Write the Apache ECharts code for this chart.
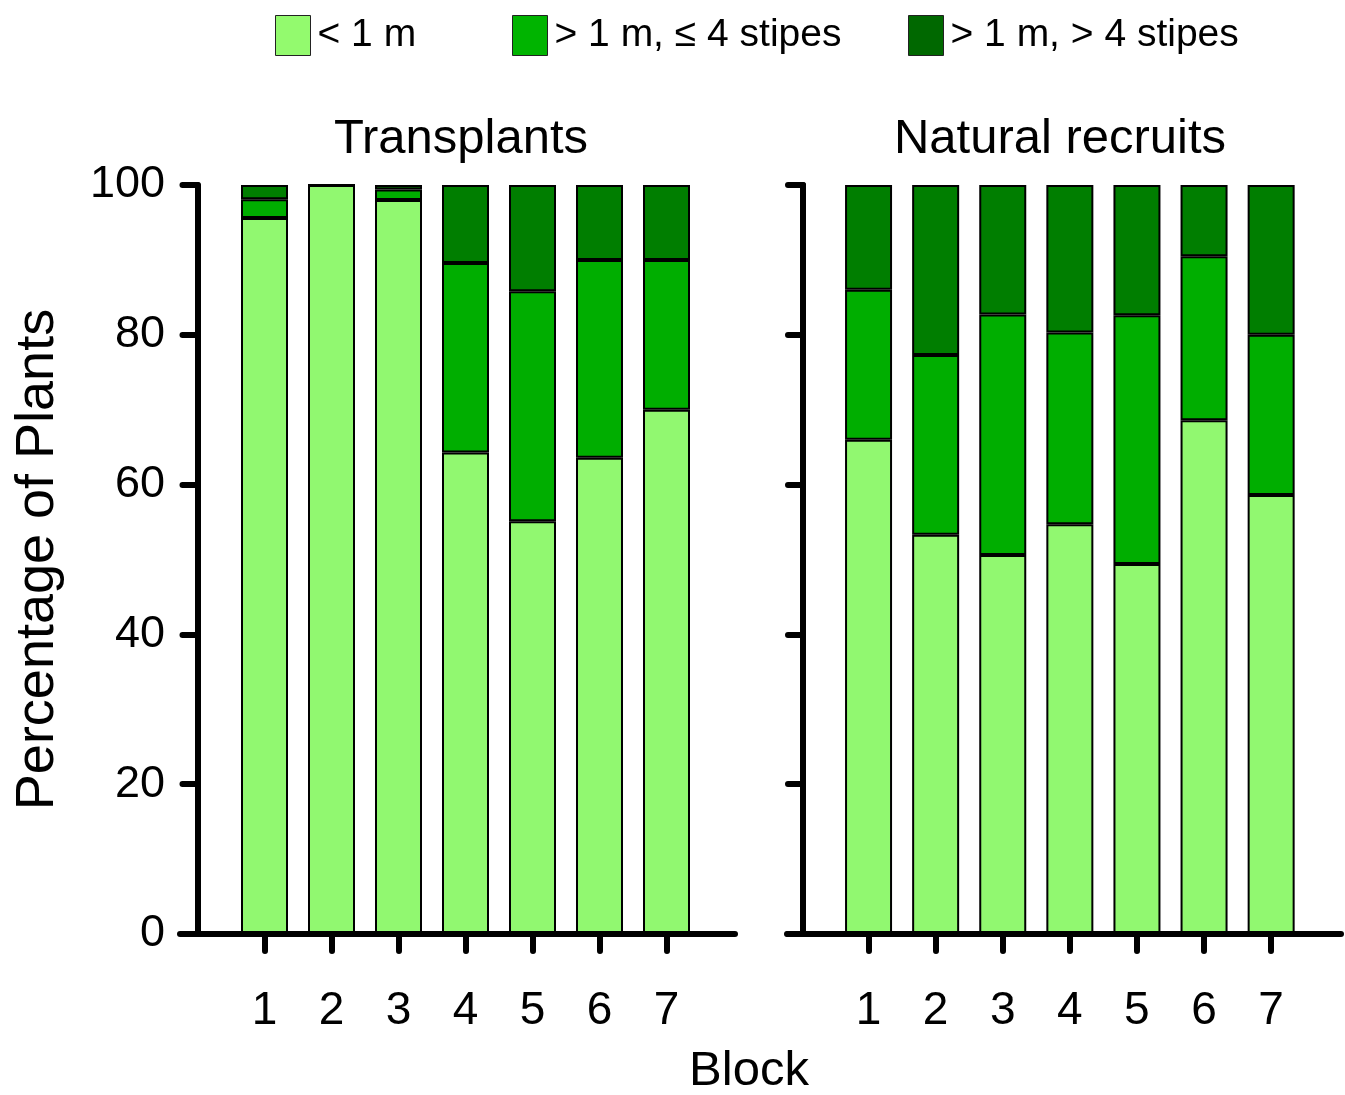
<!DOCTYPE html>
<html>
<head>
<meta charset="utf-8">
<script src="https://cdn.jsdelivr.net/npm/echarts@6/dist/echarts.min.js"></script>
<style>
  html, body { margin: 0; padding: 0; background: #ffffff; }
  #chart { width: 1345px; height: 1095px; }
</style>
</head>
<body>
<div id="chart"></div>
<script>
// Plant size classes per block (percent of plants)
const blocks = ['1', '2', '3', '4', '5', '6', '7'];
const blockNumbers = [1, 2, 3, 4, 5, 6, 7];
const classNames = ['< 1 m', '> 1 m, \u2264 4 stipes', '> 1 m, > 4 stipes'];
const panelTitles = ['Transplants', 'Natural recruits'];

const transplantsUnder1m = [95.6, 100, 98.0, 64.3, 55.1, 63.6, 70.0];
const transplantsFewStipes = [2.5, 0, 1.4, 25.3, 30.7, 26.4, 20.0];
const transplantsManyStipes = [1.9, 0, 0.6, 10.4, 14.2, 10.0, 10.0];

const recruitsUnder1m = [66.0, 53.3, 50.6, 54.7, 49.4, 68.6, 58.6];
const recruitsFewStipes = [20.0, 24.0, 32.1, 25.6, 33.2, 21.9, 21.4];
const recruitsManyStipes = [14.0, 22.7, 17.3, 19.7, 17.4, 9.5, 20.0];

const yTicks = [0, 20, 40, 60, 80, 100];

const colors = ['#91f870', '#00ae00', '#007e00'];
const legendColors = ['#93fa6e', '#00b400', '#006800'];
const FONT = "'Liberation Sans', Arial, Helvetica, sans-serif";

const chart = echarts.init(document.getElementById('chart'), null, { renderer: 'canvas' });

const axisStroke = { color: '#000', width: 6, cap: 'round' };
const PLOT_TOP = 185, PLOT_BOTTOM = 161;

// Grids 0/1 carry the visible axis frame; grids 2/3 hold the bars on a category scale.
const grids = [
  { left: 180, top: PLOT_TOP, width: 555, bottom: PLOT_BOTTOM },
  { left: 787, top: PLOT_TOP, width: 554, bottom: PLOT_BOTTOM },
  { left: 231, top: PLOT_TOP, width: 469, bottom: PLOT_BOTTOM },
  { left: 835, top: PLOT_TOP, width: 469.7, bottom: PLOT_BOTTOM }
];

function frameXAxis(gridIndex, min, max) {
  return {
    type: 'value', gridIndex, min, max, z: 5,
    axisLine: { show: true, onZero: false, lineStyle: axisStroke },
    axisTick: { show: true, customValues: blockNumbers, length: 17, lineStyle: axisStroke },
    axisLabel: {
      show: true, customValues: blockNumbers, margin: 54,
      fontFamily: FONT, fontSize: 46, color: '#000'
    },
    splitLine: { show: false }
  };
}

function frameYAxis(gridIndex, offset, showLabels) {
  return {
    type: 'value', gridIndex, min: 0, max: 100, interval: 20, offset, z: 5,
    axisLine: { show: true, lineStyle: axisStroke },
    axisTick: { show: true, length: 15, lineStyle: axisStroke },
    axisLabel: {
      show: showLabels, margin: 30, customValues: yTicks,
      fontFamily: FONT, fontSize: 45, color: '#000'
    },
    splitLine: { show: false },
    name: showLabels ? 'Percentage of Plants' : '',
    nameLocation: 'middle', nameRotate: 90, nameGap: 130,
    nameTextStyle: { fontFamily: FONT, fontSize: 54, color: '#000' }
  };
}

function barXAxis(gridIndex) {
  return {
    type: 'category', gridIndex, data: blocks, boundaryGap: true,
    axisLine: { show: false }, axisTick: { show: false },
    axisLabel: { show: false }, splitLine: { show: false }
  };
}

function barYAxis(gridIndex) {
  return {
    type: 'value', gridIndex, min: 0, max: 100,
    axisLine: { show: false }, axisTick: { show: false },
    axisLabel: { show: false }, splitLine: { show: false }
  };
}

function barSeries(classIndex, values, axisIndex, stack) {
  return {
    type: 'bar', name: classNames[classIndex], stack,
    xAxisIndex: axisIndex, yAxisIndex: axisIndex,
    barWidth: 47,
    data: values,
    itemStyle: { color: colors[classIndex], borderColor: '#000', borderWidth: 2 },
    emphasis: { disabled: true },
    z: 2
  };
}

function legendFor(i, left) {
  return {
    left, top: 10,
    data: [{ name: classNames[i], itemStyle: { color: legendColors[i], borderColor: '#222', borderWidth: 1 } }],
    icon: 'rect', itemWidth: 35, itemHeight: 40,
    selectedMode: false,
    textStyle: { fontFamily: FONT, fontSize: 39, color: '#000', padding: [3, 0, 0, 2] }
  };
}

const titleStyle = { fontFamily: FONT, fontSize: 49, fontWeight: 'normal', color: '#000' };

const option = {
  backgroundColor: '#ffffff',
  animation: false,
  title: [
    { text: panelTitles[0], left: 456, top: 110, textAlign: 'center', textStyle: titleStyle },
    { text: panelTitles[1], left: 1055, top: 110, textAlign: 'center', textStyle: titleStyle },
    { text: 'Block', left: 744, top: 1042, textAlign: 'center', textStyle: titleStyle }
  ],
  legend: [legendFor(0, 270), legendFor(1, 507), legendFor(2, 903)],
  grid: grids,
  xAxis: [
    frameXAxis(0, -0.261, 8.022), frameXAxis(1, -0.215, 8.042),
    barXAxis(2), barXAxis(3)
  ],
  yAxis: [
    frameYAxis(0, -15, true), frameYAxis(1, -16, false),
    barYAxis(2), barYAxis(3)
  ],
  series: [
    barSeries(0, transplantsUnder1m, 2, 'transplants'),
    barSeries(1, transplantsFewStipes, 2, 'transplants'),
    barSeries(2, transplantsManyStipes, 2, 'transplants'),
    barSeries(0, recruitsUnder1m, 3, 'recruits'),
    barSeries(1, recruitsFewStipes, 3, 'recruits'),
    barSeries(2, recruitsManyStipes, 3, 'recruits')
  ]
};

chart.setOption(option);
</script>
</body>
</html>
